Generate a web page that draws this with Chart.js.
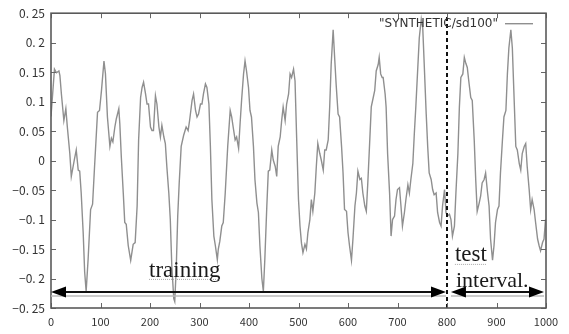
<!DOCTYPE html>
<html>
<head>
<meta charset="utf-8">
<script src="https://cdn.jsdelivr.net/npm/chart.js"></script>
<style>
  html, body { margin: 0; padding: 0; background: #fff; }
  #wrap { width: 569px; height: 334px; }
</style>
</head>
<body>
<div id="wrap"><canvas id="plot" width="569" height="334"></canvas></div>
<script>
// series (time step, value)
var steps = [
  0,7,11,16,18,21,26,30,33,38,
  41,47,51,55,58,61,65,68,71,75,
  80,84,88,94,98,102,107,110,114,119,
  122,125,129,132,137,139,142,146,149,152,
  156,161,166,170,174,177,181,184,187,191,
  194,197,201,204,207,211,214,218,221,224,
  228,231,234,238,241,244,248,250,253,256,
  259,263,268,273,277,280,285,288,292,295,
  298,302,305,308,312,315,319,322,325,329,
  332,336,338,341,345,348,352,357,362,365,
  368,372,375,379,382,385,389,392,395,399,
  402,405,409,412,416,419,422,426,429,432,
  436,439,442,446,449,453,456,459,463,466,
  469,473,476,480,483,486,490,493,496,500,
  503,506,509,513,516,519,523,526,529,533,
  536,539,543,546,550,553,556,560,563,566,
  570,573,576,580,583,587,590,593,597,600,
  603,607,610,614,617,620,624,627,630,634,
  637,640,644,647,651,654,657,661,663,666,
  669,671,675,677,680,684,687,690,694,697,
  700,704,707,710,714,717,721,724,727,731,
  734,737,741,744,748,751,754,758,761,764,
  768,771,774,778,781,785,788,791,795,798,
  801,805,808,811,815,818,822,825,828,832,
  835,838,841,844,848,851,855,858,861,865,
  868,871,875,878,882,885,888,892,895,898,
  902,905,908,912,915,919,922,925,929,932,
  935,939,942,946,949,952,956,959,962,966,
  969,972,976,979,983,986,989,993,996,999
];
var values = [
  0.075,0.155,0.149,0.152,0.144,0.113,0.068,0.088,0.057,0.012,
  -0.027,0.001,0.018,-0.016,-0.018,-0.055,-0.122,-0.189,-0.222,-0.167,
  -0.083,-0.074,-0.010,0.082,0.085,0.119,0.169,0.147,0.074,0.024,
  0.038,0.032,0.057,0.071,0.088,0.063,0.007,-0.055,-0.105,-0.108,
  -0.144,-0.169,-0.142,-0.139,-0.077,0.035,0.107,0.124,0.133,0.113,
  0.096,0.096,0.057,0.051,0.051,0.110,0.096,0.057,0.040,0.060,
  0.040,0.029,-0.010,-0.055,-0.100,-0.178,-0.234,-0.239,-0.183,-0.094,
  -0.038,0.024,0.043,0.057,0.051,0.068,0.102,0.113,0.085,0.074,
  0.079,0.096,0.096,0.113,0.130,0.124,0.096,0.024,-0.066,-0.128,
  -0.144,-0.168,-0.150,-0.137,-0.111,-0.105,-0.055,0.024,0.085,0.074,
  0.057,0.035,0.040,0.021,0.063,0.102,0.147,0.169,0.152,0.124,
  0.085,0.074,0.024,-0.032,-0.072,-0.088,-0.144,-0.200,-0.222,-0.167,
  -0.077,-0.018,-0.016,0.018,0.001,-0.010,-0.027,0.024,0.040,0.068,
  0.091,0.068,0.096,0.113,0.147,0.141,0.155,0.135,0.046,-0.066,
  -0.111,-0.140,-0.156,-0.142,-0.150,-0.122,-0.100,-0.066,-0.086,-0.055,
  -0.010,0.029,0.012,0.001,-0.016,0.018,0.018,0.035,0.091,0.163,
  0.222,0.175,0.130,0.079,0.074,0.024,-0.021,-0.083,-0.086,-0.122,
  -0.144,-0.169,-0.133,-0.077,-0.055,-0.018,-0.032,-0.030,-0.055,-0.077,
  -0.086,-0.038,0.035,0.091,0.107,0.119,0.152,0.163,0.175,0.147,
  0.141,0.141,0.113,0.091,0.012,-0.055,-0.128,-0.100,-0.094,-0.066,
  -0.049,-0.046,-0.077,-0.111,-0.088,-0.066,-0.041,-0.055,-0.032,-0.005,
  0.046,0.091,0.158,0.208,0.240,0.225,0.163,0.079,0.024,-0.021,
  -0.032,-0.049,-0.058,-0.055,-0.088,-0.105,-0.111,-0.077,-0.049,-0.088,
  -0.094,-0.091,-0.100,-0.128,-0.111,-0.055,0.012,0.091,0.141,0.147,
  0.175,0.165,0.158,0.135,0.107,0.102,0.035,-0.032,-0.086,-0.072,
  -0.060,-0.038,-0.032,-0.021,-0.055,-0.077,-0.133,-0.169,-0.144,-0.105,
  -0.083,-0.077,-0.021,0.035,0.074,0.085,0.147,0.191,0.222,0.191,
  0.119,0.024,0.018,-0.005,-0.016,0.012,0.024,0.029,-0.010,-0.049,
  -0.083,-0.066,-0.083,-0.105,-0.133,-0.144,-0.153,-0.139,-0.133,-0.100
];

var seriesName = '"SYNTHETIC/sd100"';
var splitAt = 800;                 // end of training / start of test
var arrowLevel = -0.2227;          // height of the interval arrows
var trainSpan = [0, 798];
var testSpan = [808, 996];
var xTicks = [0,100,200,300,400,500,600,700,800,900,1000];
var yTicks = [-0.25,-0.2,-0.15,-0.1,-0.05,0,0.05,0.1,0.15,0.2,0.25];

function fmtY(v) {
    var r = Math.round(v * 100) / 100;
    if (r === 0) return '0';
    var s = Math.abs(r).toString().replace('.', '. ');
    return (r < 0 ? '\u2212' : '') + s;
}

var framePlugin = {
    id: 'frame',
    afterDraw: function(chart) {
        var ctx = chart.ctx, a = chart.chartArea;
        var xs = chart.scales.x, ys = chart.scales.y;
        ctx.save();
        ctx.strokeStyle = '#666';
        ctx.lineWidth = 1;
        // inner ticks on all four sides
        ctx.beginPath();
        xTicks.forEach(function(t) {
            var px = Math.round(xs.getPixelForValue(t)) + 0.5;
            ctx.moveTo(px, a.bottom); ctx.lineTo(px, a.bottom - 5);
            ctx.moveTo(px, a.top); ctx.lineTo(px, a.top + 5);
        });
        yTicks.forEach(function(t) {
            var py = Math.round(ys.getPixelForValue(t)) + 0.5;
            ctx.moveTo(a.left, py); ctx.lineTo(a.left + 5, py);
            ctx.moveTo(a.right, py); ctx.lineTo(a.right - 5, py);
        });
        ctx.stroke();
        ctx.lineWidth = 1.6;
        ctx.strokeStyle = '#5a5a5a';
        ctx.strokeRect(a.left, a.top, a.right - a.left, a.bottom - a.top);

        // legend, gnuplot style: text then line sample
        ctx.font = '12px "DejaVu Sans"';
        ctx.fillStyle = '#333';
        ctx.textAlign = 'right';
        ctx.textBaseline = 'middle';
        ctx.fillText(seriesName, a.right - 48, a.top + 11);
        ctx.strokeStyle = '#8f8f8f';
        ctx.lineWidth = 1.4;
        ctx.beginPath();
        ctx.moveTo(a.right - 41, a.top + 10.5);
        ctx.lineTo(a.right - 13, a.top + 10.5);
        ctx.stroke();

        // interval arrows
        var ay = ys.getPixelForValue(arrowLevel);
        function arrow(x0, x1) {
            var p0 = xs.getPixelForValue(x0), p1 = xs.getPixelForValue(x1);
            ctx.strokeStyle = '#bbb';
            ctx.lineWidth = 1.5;
            ctx.beginPath();
            ctx.moveTo(p0, ay + 4); ctx.lineTo(p1, ay + 4);
            ctx.stroke();
            ctx.strokeStyle = '#111';
            ctx.lineWidth = 2;
            ctx.beginPath();
            ctx.moveTo(p0 + 6, ay); ctx.lineTo(p1 - 6, ay);
            ctx.stroke();
            ctx.fillStyle = '#000';
            ctx.beginPath();
            ctx.moveTo(p0, ay); ctx.lineTo(p0 + 15, ay - 5.5); ctx.lineTo(p0 + 15, ay + 5.5);
            ctx.closePath(); ctx.fill();
            ctx.beginPath();
            ctx.moveTo(p1, ay); ctx.lineTo(p1 - 15, ay - 5.5); ctx.lineTo(p1 - 15, ay + 5.5);
            ctx.closePath(); ctx.fill();
        }
        arrow(trainSpan[0], trainSpan[1]);
        arrow(testSpan[0], testSpan[1]);

        // interval labels
        ctx.font = '23px "Liberation Serif"';
        ctx.fillStyle = '#1a1a1a';
        ctx.textAlign = 'left';
        ctx.textBaseline = 'alphabetic';
        var tx = xs.getPixelForValue(198);
        ctx.fillText('training', tx, ay - 15);
        var w1 = ctx.measureText('training').width;
        var sx = xs.getPixelForValue(816);
        ctx.fillText('test', sx, ay - 31);
        var w2 = ctx.measureText('test').width;
        ctx.font = '22px "Liberation Serif"';
        ctx.fillText('interval.', sx + 1, ay - 5);
        ctx.strokeStyle = '#aaa';
        ctx.lineWidth = 1;
        ctx.setLineDash([1, 1]);
        ctx.beginPath();
        ctx.moveTo(tx, ay - 12.5); ctx.lineTo(tx + w1, ay - 12.5);
        ctx.moveTo(sx, ay - 27.5); ctx.lineTo(sx + w2, ay - 27.5);
        ctx.stroke();
        ctx.restore();
    }
};

var points = steps.map(function(s, i) { return { x: s, y: values[i] }; });

new Chart(document.getElementById('plot'), {
    type: 'scatter',
    data: {
        datasets: [
            {
                label: 'split',
                data: [{ x: splitAt, y: -0.25 }, { x: splitAt, y: 0.25 }],
                showLine: true,
                borderColor: '#111',
                borderWidth: 2,
                borderDash: [4, 3],
                pointRadius: 0
            },
            {
                label: seriesName,
                data: points,
                showLine: true,
                borderColor: '#8f8f8f',
                borderWidth: 1.4,
                pointRadius: 0,
                tension: 0
            }
        ]
    },
    options: {
        responsive: false,
        animation: false,
        events: [],
        layout: { padding: { top: 10, right: 23, left: 0, bottom: 0 } },
        plugins: { legend: { display: false }, tooltip: { enabled: false } },
        scales: {
            x: {
                type: 'linear', min: 0, max: 1000,
                afterBuildTicks: function(s) { s.ticks = xTicks.map(function(v) { return { value: v }; }); },
                afterFit: function(s) { s.height = 26; },
                grid: { display: false, drawTicks: false },
                border: { display: false },
                ticks: {
                    color: '#333', font: { family: '"Noto Sans CJK JP"', size: 11 }, padding: 7, maxRotation: 0,
                    callback: function(v) { return String(v); }
                }
            },
            y: {
                min: -0.25, max: 0.25,
                afterBuildTicks: function(s) { s.ticks = yTicks.map(function(v) { return { value: v }; }); },
                afterFit: function(s) { s.width = 51; },
                grid: { display: false, drawTicks: false },
                border: { display: false },
                ticks: { color: '#333', font: { family: '"Noto Sans CJK JP"', size: 12 }, padding: 6, callback: fmtY }
            }
        }
    },
    plugins: [framePlugin]
});
</script>
</body>
</html>
